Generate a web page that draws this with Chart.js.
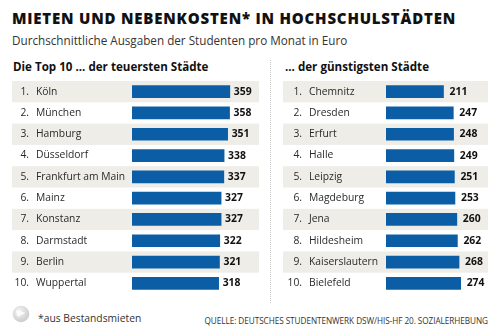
<!DOCTYPE html>
<html>
<head>
<meta charset="utf-8">
<script src="https://cdn.jsdelivr.net/npm/chart.js@4"></script>
<style>
  html, body { margin: 0; padding: 0; background: #fff; }
  #wrap { position: relative; width: 500px; height: 333px; overflow: hidden; font-family: "Open Sans", sans-serif; color: #222; }
  .abs { position: absolute; white-space: nowrap; }
  #title { left: 12px; top: 8px; font-size: 15px; font-weight: 800; color: #111; letter-spacing: 0.8px; }
  #subtitle { left: 12px; top: 32px; font-size: 11.7px; color: #333; }
  .head { top: 59px; font-size: 11.6px; font-weight: 700; color: #111; }
  #divider { left: 270px; top: 60px; height: 243px; border-left: 1px dotted #c8c8c8; }
  #note { left: 38px; top: 311px; font-size: 10.3px; color: #333; }
  #source { right: 12px; top: 315px; font-size: 8.2px; color: #333; letter-spacing: -0.05px; }
  #globe { left: 12px; top: 305px; }
  canvas { position: absolute; }
</style>
</head>
<body>
<div id="wrap">
  <div class="abs" id="title">MIETEN UND NEBENKOSTEN* IN HOCHSCHULSTÄDTEN</div>
  <div class="abs" id="subtitle">Durchschnittliche Ausgaben der Studenten pro Monat in Euro</div>
  <div class="abs head" style="left:13px">Die Top 10 ... der teuersten Städte</div>
  <div class="abs head" style="left:285px">... der günstigsten Städte</div>
  <div class="abs" id="divider"></div>
  <canvas id="leftChart" width="265" height="232" style="left:0;top:70px"></canvas>
  <canvas id="rightChart" width="230" height="232" style="left:270px;top:70px"></canvas>
  <svg class="abs" id="globe" width="18" height="18" viewBox="0 0 18 18">
    <defs>
      <radialGradient id="g" cx="40%" cy="35%" r="70%">
        <stop offset="0" stop-color="#f4f4f4"/>
        <stop offset="1" stop-color="#c9c9c9"/>
      </radialGradient>
    </defs>
    <circle cx="9" cy="9" r="8.3" fill="url(#g)"/>
    <path d="M4 6 Q7 4 9 6 T13 7 Q12 10 9 10 Q7 13 5 11 Z" fill="#fff" opacity="0.8"/>
  </svg>
  <div class="abs" id="note">*aus Bestandsmieten</div>
  <div class="abs" id="source">QUELLE: DEUTSCHES STUDENTENWERK DSW/HIS-HF 20. SOZIALERHEBUNG</div>
</div>

<script>
// Monatliche Miete inkl. Nebenkosten in Euro
const ranks = ['1.', '2.', '3.', '4.', '5.', '6.', '7.', '8.', '9.', '10.'];
const topCities = ['Köln', 'München', 'Hamburg', 'Düsseldorf', 'Frankfurt am Main', 'Mainz', 'Konstanz', 'Darmstadt', 'Berlin', 'Wuppertal'];
const topRent = [359, 358, 351, 338, 337, 327, 327, 322, 321, 318];
const cheapCities = ['Chemnitz', 'Dresden', 'Erfurt', 'Halle', 'Leipzig', 'Magdeburg', 'Jena', 'Hildesheim', 'Kaiserslautern', 'Bielefeld'];
const cheapRent = [211, 247, 248, 249, 251, 253, 260, 262, 268, 274];

const BLUE = '#0b5ea6';
const STRIPE = '#efede8';

// stripes behind the rows, rank + city name, value at the bar end
const rowLabels = {
  id: 'rowLabels',
  beforeDatasetsDraw(chart, args, opts) {
    const { ctx } = chart;
    const y = chart.scales.y;
    const band = (y.getPixelForValue(1) - y.getPixelForValue(0));
    ctx.save();
    ctx.fillStyle = STRIPE;
    chart.data.labels.forEach((l, i) => {
      if (i % 2 == 0) {
        const c = y.getPixelForValue(i);
        ctx.fillRect(opts.stripeLeft, c - band / 2, opts.stripeRight - opts.stripeLeft, band);
      }
    });
    ctx.restore();
  },
  afterDatasetsDraw(chart, args, opts) {
    const { ctx } = chart;
    const y = chart.scales.y;
    const meta = chart.getDatasetMeta(0);
    const values = chart.data.datasets[0].data;
    ctx.save();
    ctx.textBaseline = 'middle';
    chart.data.labels.forEach((name, i) => {
      const c = y.getPixelForValue(i);
      ctx.fillStyle = '#2a2a2a';
      ctx.font = '10.3px "Open Sans"';
      ctx.textAlign = 'right';
      ctx.fillText(ranks[i], opts.rankRight, c);
      ctx.textAlign = 'left';
      ctx.fillText(name, opts.nameLeft, c);
      ctx.fillStyle = '#111';
      ctx.font = 'bold 10.4px "Open Sans"';
      ctx.fillText(values[i], meta.data[i].x + opts.valueGap, c);
    });
    ctx.restore();
  }
};

function makeChart(id, cities, rent, padLeft, padRight, labelOpts) {
  const ctx = document.getElementById(id).getContext('2d');
  return new Chart(ctx, {
    type: 'bar',
    data: {
      labels: cities,
      datasets: [{
        data: rent,
        backgroundColor: BLUE,
        barThickness: 12,
        borderWidth: 0
      }]
    },
    options: {
      indexAxis: 'y',
      responsive: false,
      animation: false,
      layout: { padding: { left: padLeft, right: padRight, top: 11, bottom: 8 } },
      scales: {
        x: { display: false, min: 0, max: 400 },
        y: { display: false }
      },
      plugins: {
        legend: { display: false },
        tooltip: { enabled: false },
        rowLabels: labelOpts
      }
    },
    plugins: [rowLabels]
  });
}

const start = () => {
  makeChart('leftChart', topCities, topRent, 132, 24,
    { stripeLeft: 12, stripeRight: 259, rankRight: 29, nameLeft: 36, valueGap: 4 });
  makeChart('rightChart', cheapCities, cheapRent, 116, 5,
    { stripeLeft: 13, stripeRight: 218, rankRight: 32, nameLeft: 39, valueGap: 6 });
};

document.fonts.ready.then(start);
</script>
</body>
</html>
